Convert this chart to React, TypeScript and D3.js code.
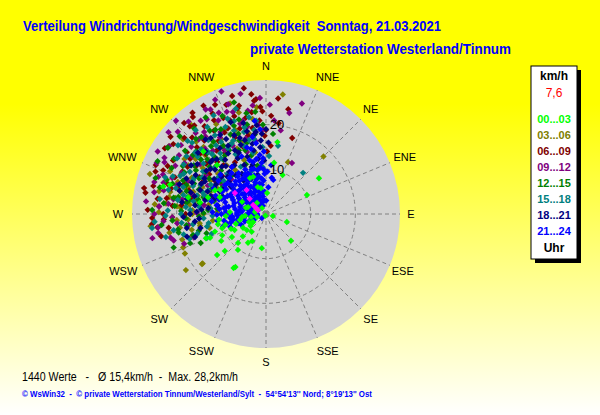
import React from 'react';
import * as d3 from 'd3';

type P = [number, number]; // [direction in degrees, speed km/h]

const compassLabels = ['N', 'NNE', 'NE', 'ENE', 'E', 'ESE', 'SE', 'SSE', 'S', 'SSW', 'SW', 'WSW', 'W', 'WNW', 'NW', 'NNW'];
const labelNudge = [0, 5, 0, 2, -3, 0, 0, 5, 0, -8, -2, -6, 0, -7, -2, -8];
const ringValues = [10, 20, 30];
const ringLabelValues = [10, 20];
const maxSpeed = 30;

const titleText = 'Verteilung Windrichtung/Windgeschwindigkeit  Sonntag, 21.03.2021';
const subTitleText = 'private Wetterstation Westerland/Tinnum';
const statsText = '1440 Werte   -   Ø 15,4km/h  -  Max. 28,2km/h';
const footerText = '© WsWin32  -  © private Wetterstation Tinnum/Westerland/Sylt  -  54°54\'13\'\' Nord; 8°19\'13\'\' Ost';

const legendUnit = 'km/h';
const legendCurrent = '7,6';
const legendFooter = 'Uhr';
const hourBands = ['00...03', '03...06', '06...09', '09...12', '12...15', '15...18', '18...21', '21...24'];
const bandColors = ['#00ff00', '#808000', '#800000', '#800080', '#008000', '#008080', '#000080', '#0000ff'];

const h00_03: P[] = [
  [200, 0.4], [106, 1.6], [111, 5.0], [137, 8.2], [187, 7.7], [207, 6.8], [212, 7.6], [224, 9.0], [230, 14.3], [211, 14.1],
  [244, 10.9], [239, 11.7], [247, 8.5], [252, 7.1], [239, 6.0], [230, 5.6], [237, 3.7], [252, 2.1], [292, 2.4], [265, 4.7],
  [257, 6.0], [245, 4.2], [326, 1.6], [258, 11.0], [248, 14.5], [247, 13.6], [9, 16.3], [9, 11.6], [56, 14.3], [65, 10.1],
  [210, 13.7], [343, 6.3], [341, 8.8], [3, 4.7], [23, 9.5], [236, 9.2], [238, 3.4], [297, 6.0], [287, 4.7], [263, 10.6],
  [252, 10.3], [280, 15.0], [282, 17.8], [285, 23.8], [290, 11.0], [295, 12.6], [336, 8.8], [349, 5.9], [263, 5.4], [259, 3.4],
  [280, 2.5], [291, 4.3], [321, 3.2], [267, 9.0], [273, 8.1], [251, 12.1], [286, 13.5], [298, 11.6], [315, 19.8], [315, 15.5],
  [287, 22.5], [218, 10.2], [228, 12.4], [243, 7.9], [219, 5.1], [232, 4.4], [255, 9.4], [226, 7.2],
];

const h03_06: P[] = [
  [342, 26], [45, 18.2], [23, 12.6], [289, 27.5], [244, 20.2], [232, 18], [253, 19.6], [235, 21.9], [232, 18.2], [275, 20],
  [278, 18], [281, 16], [284, 19.5], [287, 17], [290, 21], [293, 15.5], [296, 18.5], [273, 16.5], [270, 14], [266, 17.5],
  [262, 15], [258, 17], [279, 13], [283, 22], [286, 14], [292, 19], [299, 16], [302, 20.5], [306, 17.5], [310, 14],
  [314, 19], [318, 16.5], [323, 21], [327, 18], [331, 23], [336, 16], [340, 20], [345, 23.5], [348, 18.5], [352, 21.5],
  [300, 24], [305, 26.5], [312, 25], [320, 26], [294, 23.5], [282, 24.5], [276, 22.5], [268, 21], [261, 19.5], [256, 13],
  [263, 12], [272, 11], [288, 11.5], [298, 12.5], [310, 10.5], [325, 12], [338, 13], [350, 14], [355, 24], [8, 27], [316, 22.5],
  [277, 17.2], [285, 15.8], [280, 20.6], [289, 18.4], [274, 19.1],
  [280, 22], [284, 17.5], [288, 19], [291, 13.5], [295, 21], [298, 18], [301, 14.5], [304, 22], [308, 20], [312, 17.5],
  [317, 20.5], [321, 14], [329, 19.5], [334, 21], [343, 17], [270, 16.5], [266, 20], [259, 22], [253, 17.5], [248, 20],
  [275, 25], [264, 26], [260, 15], [271, 24],
];

const h06_09: P[] = [
  [350, 28.6], [354, 25.5], [355, 25.8], [323, 27.2], [318, 27.4], [282, 27.9], [280, 27.4], [265, 25.6], [267, 22.9], [19, 18],
  [0, 18.8], [4, 15.3], [352, 23], [348, 22], [345, 24.5], [340, 26], [336, 23.5], [332, 25.5], [328, 22], [325, 24],
  [320, 21.5], [316, 23.8], [312, 20], [308, 22.5], [304, 19], [300, 24], [297, 21], [293, 25], [290, 19.5], [287, 23],
  [284, 26], [278, 24.5], [275, 21], [272, 26.5], [270, 23], [262, 22], [258, 24], [299, 17], [305, 15.5], [310, 17.5],
  [315, 19], [322, 18], [327, 19.5], [333, 20.5], [338, 18.5], [343, 20], [347, 18], [351, 19.5], [356, 21], [358, 23],
  [3, 22], [8, 20.5], [12, 24], [341, 16], [334, 15], [326, 16.5], [319, 14.5], [311, 13], [303, 13.5], [296, 16],
  [289, 15], [282, 17], [276, 19], [270, 18], [286, 20.5], [292, 22], [313, 25], [330, 28], [344, 27.5], [336, 21],
  [321, 25.5], [307, 26], [294, 27], [301, 20.5], [317, 16], [329, 13.5], [339, 22.5], [1, 14], [6, 26], [359, 17.5],
  [291, 26.5], [296, 24.5], [303, 27], [309, 27.5], [314, 21.5], [319, 26], [324, 28], [331, 24], [335, 27], [342, 23],
  [346, 25], [353, 27], [357, 24], [285, 22], [279, 22.5], [274, 24], [268, 25.5], [263, 24.5], [287, 18], [306, 21],
];

const h09_12: P[] = [
  [340, 29.2], [348, 27.5], [13, 23.2], [27, 12.8], [316, 29], [276, 27], [260, 24.5], [291, 24.7], [289, 25.5], [295, 27],
  [300, 28], [305, 26.5], [310, 28.5], [320, 27], [325, 25.5], [330, 27], [335, 25], [342, 24], [346, 21.5], [350, 23.5],
  [355, 20], [357, 26], [5, 21], [10, 19], [345, 17.5], [338, 19], [331, 21], [327, 17], [322, 22], [317, 20],
  [312, 22.5], [307, 18.5], [302, 21.5], [298, 23], [293, 19], [288, 21], [283, 23.5], [279, 21], [274, 24], [268, 21],
  [264, 20], [256, 22], [250, 19.5], [252, 17], [262, 17.5], [271, 15.5], [278, 14], [285, 17], [296, 14.5], [304, 12],
  [314, 15.5], [324, 13], [334, 17], [343, 14.5], [352, 16.5], [358, 19], [341, 26], [333, 23.5], [319, 24], [309, 24.5],
  [286, 26], [280, 19], [297, 25.5], [328, 25], [336, 28], [303, 16], [288, 12.5], [320, 18.5], [348, 20], [2, 24.5],
  [315, 11], [18, 26], [263, 24.3],
  [287, 24], [291, 22.5], [296, 21], [299, 26], [304, 23.5], [308, 21], [313, 27], [318, 22.5], [323, 23], [329, 20],
  [332, 26.5], [339, 24.5], [344, 21], [353, 24.5], [281, 25.5], [276, 22], [270, 25], [266, 23], [258, 26], [254, 21.5],
];

const h12_15: P[] = [
  [272, 25.5], [258, 20], [249, 18.2], [276, 23], [280, 21], [284, 24.5], [288, 22], [292, 20], [296, 23.5], [300, 21.5],
  [304, 19.5], [308, 23], [312, 21], [316, 19], [320, 22.5], [324, 20], [328, 18], [332, 21.5], [336, 19.5], [340, 17.5],
  [344, 22], [348, 20.5], [352, 18], [278, 18], [282, 15.5], [286, 18.5], [290, 16], [294, 13.5], [298, 17], [302, 15],
  [306, 12.5], [310, 16.5], [314, 14], [318, 11.5], [322, 15.5], [326, 13], [330, 16.5], [334, 14], [338, 12], [342, 15],
  [346, 13.5], [350, 11], [262, 18], [266, 21], [268, 15], [272, 19], [274, 13], [256, 15.5], [252, 14], [246, 16],
  [276, 11], [284, 12], [292, 10.5], [300, 11.5], [308, 9.5], [312, 26], [320, 25], [304, 26.5], [296, 27], [288, 26],
  [328, 25.5], [336, 24], [344, 26], [354, 23], [358, 20], [5, 18], [318, 17], [302, 18.5], [290, 19], [280, 17.5],
  [270, 17], [264, 23.5], [326, 22.5], [340, 21], [310, 19],
  [281, 20], [285, 14.5], [289, 23.5], [293, 17.5], [297, 20.5], [301, 24], [305, 16.5], [309, 21], [313, 18], [317, 23],
  [321, 19.5], [325, 16], [329, 22], [333, 17.5], [337, 15.5], [341, 19], [345, 16.5], [349, 23], [279, 15], [275, 20.5],
  [267, 18], [260, 20], [254, 17], [250, 22], [271, 14],
];

const h15_18: P[] = [
  [263, 25.7], [42, 12.4], [10, 15.5], [248, 14.3], [250, 13], [254, 16], [258, 13.5], [262, 16.5], [266, 14], [270, 19],
  [273, 17], [276, 15], [279, 20], [282, 18], [285, 16], [288, 19.5], [291, 17.5], [294, 21], [297, 18], [300, 16.5],
  [303, 20], [306, 22], [309, 18], [312, 15.5], [315, 20.5], [318, 18], [321, 16], [324, 19], [327, 21], [330, 17],
  [333, 15], [336, 18], [339, 20], [342, 16], [345, 19], [348, 14], [351, 17], [354, 21], [357, 15], [272, 22],
  [278, 24], [284, 22.5], [290, 24], [296, 20.5], [302, 23.5], [308, 25], [314, 23], [320, 24.5], [326, 23.5], [332, 25],
  [338, 23], [344, 24.5], [350, 22], [268, 12], [276, 12.5], [284, 13.5], [292, 14], [300, 13], [308, 12], [316, 12.5],
  [324, 11], [332, 12], [340, 10], [356, 10.5], [3, 13], [260, 21], [256, 19], [266, 25], [287, 14.5], [299, 19.5],
  [311, 21], [323, 17], [335, 21.5], [347, 17], [294, 16],
  [280, 16.5], [283, 19], [286, 21], [289, 15], [292, 22.5], [295, 18], [298, 14], [301, 21.5], [304, 17], [307, 13.5],
  [310, 20], [313, 24], [317, 19], [322, 21], [328, 19], [334, 17.5], [341, 22], [346, 20], [352, 19], [275, 18],
  [269, 22.5], [264, 19], [257, 23], [252, 18], [261, 13],
];

const h18_21: P[] = [
  [354, 20], [351, 17.9], [344, 17.2], [334, 15.9], [323, 15.2], [311, 15.1], [300, 15.9], [290, 15.7], [277, 16], [252, 16.7],
  [254, 18.4], [355, 15], [352, 12.5], [349, 14.5], [347, 19], [345, 11.5], [342, 13.5], [340, 16.5], [338, 19], [336, 12],
  [333, 14], [331, 17.5], [329, 10.5], [327, 13], [325, 18], [322, 11], [320, 14], [318, 16.5], [316, 19.5], [314, 12],
  [313, 17], [310, 13], [308, 10], [306, 16.5], [304, 14], [302, 11], [299, 18], [297, 13], [295, 16], [292, 10.5],
  [288, 13], [286, 17.5], [283, 14], [280, 11], [278, 19], [274, 14.5], [270, 17], [266, 15], [260, 18], [357, 18],
  [358, 12], [2, 16], [346, 21], [339, 22], [330, 20.5], [321, 21.5], [312, 20.5], [303, 20], [294, 19.5], [285, 20],
  [326, 9], [337, 8.5], [318, 8.5], [348, 9],
  [343, 11], [341, 18], [336, 15], [332, 19], [328, 16], [324, 21], [319, 12.5], [317, 14.5], [315, 17], [311, 11],
  [309, 16], [306, 19], [301, 13], [298, 15.5], [296, 11.5], [293, 18], [291, 14], [289, 20.5], [287, 12], [284, 16.5],
  [281, 18], [276, 13], [272, 15.5], [268, 18.5], [264, 16], [258, 15], [349, 16], [353, 18.5], [356, 16.5], [0, 19],
];

const h21_24: P[] = [
  [297, 5.8], [225, 1.3], [264, 8.1], [280, 11.2], [305, 11.2], [338, 9.4], [352, 6.6], [337, 3.4], [343, 12.6], [354, 13.3],
  [350, 12.5], [9, 8.2], [12, 7.8], [270, 4], [268, 6.5], [273, 9], [276, 2.5], [279, 7], [284, 5], [286, 9.5],
  [283, 3], [289, 7.5], [292, 4.5], [291, 10], [294, 6.5], [296, 8.5], [299, 3], [301, 5], [303, 7.5], [302, 10.5],
  [306, 4], [308, 6], [307, 9], [311, 2.5], [312, 5], [313, 8], [316, 6.5], [318, 4], [317, 10], [320, 5.5],
  [322, 8], [324, 3], [325, 6], [327, 9.5], [329, 4.5], [331, 7], [333, 5.5], [334, 8.5], [336, 3], [338, 6],
  [340, 4.5], [341, 7.5], [343, 9], [345, 5], [347, 3], [348, 7], [350, 4], [353, 8], [356, 5], [357, 10],
  [262, 5], [259, 3], [266, 2], [275, 5.5], [281, 8.5], [287, 11], [293, 2], [298, 11.5], [304, 2], [309, 11],
  [314, 9.5], [319, 7.5], [323, 10.5], [328, 2.5], [332, 10], [335, 11], [339, 2], [342, 10.5], [346, 12], [349, 10],
  [355, 11.5], [358, 14], [352, 16], [356, 19], [347, 15], [300, 7], [295, 9.5], [285, 6], [310, 7], [321, 3.5],
  [326, 7.5], [330, 9], [315, 3], [288, 4], [278, 9.5], [290, 12], [305, 13], [320, 12], [270, 10], [1, 3],
  [5, 6], [260, 7.5], [256, 9],
  [267, 4.5], [271, 8], [274, 3.5], [277, 6], [280, 9], [282, 4], [284, 7.5], [287, 2.5], [289, 10.5], [291, 6],
  [293, 8], [295, 3.5], [297, 11], [298, 6.5], [300, 9], [302, 4.5], [304, 8.5], [305, 5.5], [307, 3], [309, 8],
  [310, 10], [312, 6.5], [314, 4], [315, 11.5], [317, 5], [318, 8.5], [320, 2], [321, 9.5], [323, 6.5], [325, 4],
  [326, 11], [328, 8], [330, 5.5], [331, 3], [333, 9.5], [335, 6.5], [336, 10], [338, 4], [340, 7], [342, 5.5],
  [344, 8], [345, 10.5], [347, 6], [349, 8.5], [351, 5], [353, 10.5], [354, 3], [356, 7.5], [358, 9], [269, 11],
  [263, 6], [261, 9.5], [272, 12], [283, 12.5], [296, 13], [311, 13.5], [324, 13], [337, 14], [344, 15.5], [350, 17.5],
  [353, 21], [2, 9.5], [6, 11], [357, 12.5],
  [248, 4], [252, 6.5], [255, 3], [257, 8], [260, 5], [263, 3.5], [265, 7.5], [268, 9], [250, 8.5], [246, 6],
  [254, 10], [258, 2], [262, 11], [266, 5.5], [272, 6.5], [244, 3], [270, 2], [276, 10.5], [251, 5], [259, 6.5],
];

const latest: P[] = [[304, 8.4], [321, 6.9], [305, 3.5], [301, 2.6], [296, 2.0], [313, 5.0]];
const latestColor = '#ff00ff';

const bandData: P[][] = [h00_03, h03_06, h06_09, h09_12, h12_15, h15_18, h18_21, h21_24];
const drawOrder = [1, 2, 3, 4, 5, 6, 7, 0];

const W = 600;
const H = 415;
const cx = 266;
const cy = 214;
const R = 134;

const rScale = d3.scaleLinear().domain([0, maxSpeed]).range([0, R]);
const aScale = d3.scaleLinear().domain([0, 360]).range([0, 2 * Math.PI]);

const px = (d: number, s: number) => cx + rScale(s) * Math.sin(aScale(d));
const py = (d: number, s: number) => cy - rScale(s) * Math.cos(aScale(d));

const diamond = (x: number, y: number, h: number) => {
  const p = d3.path();
  p.moveTo(x, y - h);
  p.lineTo(x + h, y);
  p.lineTo(x, y + h);
  p.lineTo(x - h, y);
  p.closePath();
  return p.toString();
};

export default function App() {
  const ff = '"Liberation Sans", Arial, sans-serif';
  const legendX = 531;
  const legendY = 66;
  const legendW = 46;
  const legendH = 193;
  const legendCx = legendX + legendW / 2;
  return (
    <svg width={W} height={H} style={{ position: 'absolute', left: 0, top: 0, display: 'block' }} fontFamily={ff}>
      <defs>
        <linearGradient id="bg" x1="0" y1="0" x2="0" y2="1">
          <stop offset="0" stopColor="#ffff00" />
          <stop offset="0.25" stopColor="#ffff00" />
          <stop offset="1" stopColor="#ffffff" />
        </linearGradient>
      </defs>
      <rect x={0} y={0} width={W} height={H} fill="url(#bg)" />

      <text x={23} y={31} fontSize={14} fontWeight="bold" fill="#0000ff" textLength={418} lengthAdjust="spacingAndGlyphs" xmlSpace="preserve">{titleText}</text>
      <text x={250} y={54} fontSize={14} fontWeight="bold" fill="#0000ff" textLength={261} lengthAdjust="spacingAndGlyphs">{subTitleText}</text>

      <circle cx={cx} cy={cy} r={R} fill="#d3d3d3" />

      {ringValues.slice(0, -1).map((v) => (
        <circle key={v} cx={cx} cy={cy} r={rScale(v)} fill="none" stroke="#808080" strokeWidth={1} strokeDasharray="4,3" />
      ))}
      {compassLabels.map((_, i) => {
        const d = i * 22.5;
        return (
          <line key={i} x1={px(d, 0)} y1={py(d, 0)} x2={px(d, maxSpeed)} y2={py(d, maxSpeed)} stroke="#808080" strokeWidth={1} strokeDasharray="4,3" />
        );
      })}
      <rect x={cx - 3} y={cy - 3} width={6} height={6} fill="#808080" />

      {drawOrder.map((bi) => (
        <g key={bi} fill={bandColors[bi]}>
          {bandData[bi].map(([d, s], j) => (
            <path key={j} d={diamond(px(d, s), py(d, s), 3.2)} />
          ))}
        </g>
      ))}
      <g fill={latestColor}>
        {latest.map(([d, s], j) => (
          <path key={j} d={diamond(px(d, s), py(d, s), 3.2)} />
        ))}
      </g>

      {ringLabelValues.map((v) => (
        <text key={v} x={cx + 11} y={cy - rScale(v)} fontSize={13} fill="#000" textAnchor="middle" dominantBaseline="central">{v}</text>
      ))}

      {compassLabels.map((lab, i) => {
        const d = i * 22.5;
        const lr = 148;
        return (
          <text key={lab} x={cx + lr * Math.sin(aScale(d)) + labelNudge[i]} y={cy - lr * Math.cos(aScale(d))} fontSize={11} fill="#000" textAnchor="middle" dominantBaseline="central">{lab}</text>
        );
      })}

      <rect x={legendX + 4} y={legendY + 4} width={legendW} height={legendH} fill="#000" />
      <rect x={legendX} y={legendY} width={legendW} height={legendH} fill="#fff" stroke="#000" strokeWidth={1} />
      <text x={legendCx} y={76} fontSize={12} fontWeight="bold" fill="#000" textAnchor="middle" dominantBaseline="central">{legendUnit}</text>
      <text x={legendCx} y={93} fontSize={12} fill="#ff0000" textAnchor="middle" dominantBaseline="central">{legendCurrent}</text>
      {hourBands.map((b, i) => (
        <text key={b} x={legendCx} y={119 + i * 16} fontSize={11} fontWeight="bold" fill={bandColors[i]} textAnchor="middle" dominantBaseline="central">{b}</text>
      ))}
      <text x={legendCx} y={248} fontSize={12} fontWeight="bold" fill="#000" textAnchor="middle" dominantBaseline="central">{legendFooter}</text>

      <text x={22} y={381} fontSize={12} fill="#000" textLength={216} lengthAdjust="spacingAndGlyphs" xmlSpace="preserve">{statsText}</text>
      <text x={22} y={397} fontSize={9} fontWeight="bold" fill="#0000ff" textLength={350} lengthAdjust="spacingAndGlyphs" xmlSpace="preserve">{footerText}</text>
    </svg>
  );
}
